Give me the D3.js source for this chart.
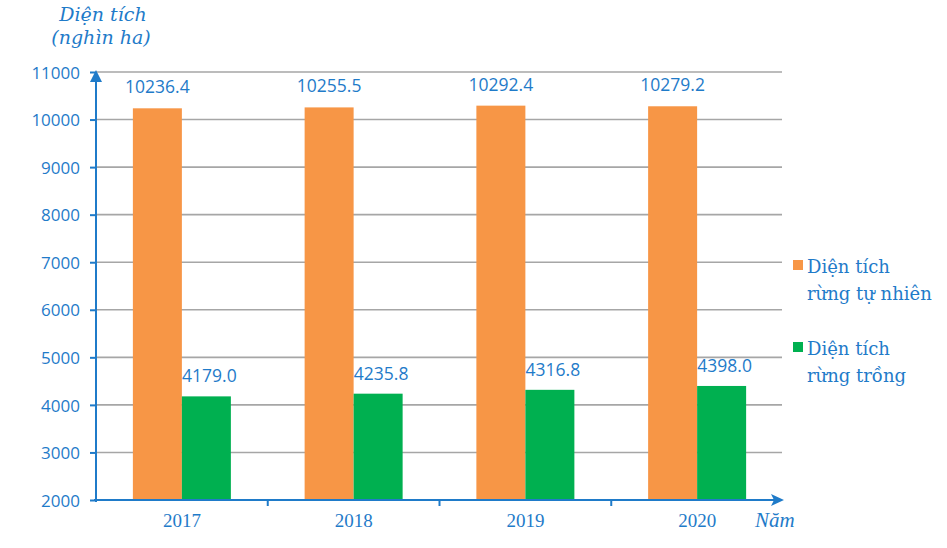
<!DOCTYPE html>
<html><head><meta charset="utf-8">
<script src="https://cdn.jsdelivr.net/npm/d3@7"></script>
<style>body{margin:0;background:#fff}</style>
</head><body>
<script>
const years = ["2017", "2018", "2019", "2020"];
const seriesNames = ["Diện tích rừng tự nhiên", "Diện tích rừng trồng"];
const natural = [10236.4, 10255.5, 10292.4, 10279.2];
const planted = [4179.0, 4235.8, 4316.8, 4398.0];
const yTicks = [2000, 3000, 4000, 5000, 6000, 7000, 8000, 9000, 10000, 11000];
const colors = ["#F79646", "#00B050"];
const blue = "#1F7BC9";
const serif = "'Liberation Serif', 'Times New Roman', serif";
const serifVN = "'DejaVu Serif', serif";

const W = 947, H = 548;
const svg = d3.select("body").append("svg").attr("width", W).attr("height", H);

const y = d3.scaleLinear().domain([2000, 11000]).range([500, 72]);
const x0 = d3.scaleBand().domain(years).range([96, 783]).padding(0);
const x1 = d3.scaleBand().domain([0, 1]).range([0, x0.bandwidth()]).paddingInner(0).paddingOuter(0.7526);

// gridlines
svg.append("g").selectAll("line").data(yTicks.filter(t => t > 2000)).join("line")
  .attr("x1", 96).attr("x2", 782).attr("y1", d => y(d)).attr("y2", d => y(d))
  .attr("stroke", "#A6A6A6").attr("stroke-width", 1.6);

// bars
const data = years.map((yr, i) => ({yr, vals: [natural[i], planted[i]]}));
const grp = svg.append("g").selectAll("g").data(data).join("g")
  .attr("transform", d => `translate(${x0(d.yr)},0)`);
grp.selectAll("rect").data(d => d.vals.map((v, k) => ({v, k}))).join("rect")
  .attr("x", d => x1(d.k)).attr("width", x1.bandwidth())
  .attr("y", d => y(d.v)).attr("height", d => y(2000) - y(d.v))
  .attr("fill", d => colors[d.k]);
grp.selectAll("text").data(d => d.vals.map((v, k) => ({v, k}))).join("text")
  .attr("x", d => x1(d.k) + x1.bandwidth() / 2 + (d.k === 1 ? 3 : 0))
  .attr("y", d => d.k === 0 ? y(d.v) - 15 : y(d.v) - 14)
  .attr("text-anchor", "middle")
  .attr("font-family", "'Open Sans', sans-serif").attr("font-size", 17.5)
  .attr("fill", blue)
  .text(d => d.v.toFixed(1));

// y axis
const yAxis = d3.axisLeft(y).tickValues(yTicks).tickSize(6).tickFormat(d3.format("d"));
const gy = svg.append("g").attr("transform", "translate(96,0)").call(yAxis);
gy.select(".domain").remove();
gy.selectAll(".tick line").attr("stroke", blue).attr("stroke-width", 2);
gy.selectAll(".tick text").attr("fill", blue).attr("font-family", "'Open Sans', sans-serif")
  .attr("font-size", 17).attr("x", -16).attr("dy", "0.36em");
svg.append("line").attr("x1", 96).attr("x2", 96).attr("y1", 502).attr("y2", 80)
  .attr("stroke", blue).attr("stroke-width", 2);
svg.append("path").attr("d", "M96,70 L90,82 L102,82 Z").attr("fill", blue);

// x axis
const xAxis = d3.axisBottom(x0).tickSize(0).tickFormat(d => d);
const gx = svg.append("g").attr("transform", "translate(0,500)").call(xAxis);
gx.select(".domain").remove();
gx.selectAll(".tick text").attr("fill", blue).attr("font-family", serif)
  .attr("font-size", 19).attr("y", 14).attr("dy", "0.71em");
svg.append("line").attr("x1", 94).attr("x2", 774).attr("y1", 500).attr("y2", 500)
  .attr("stroke", blue).attr("stroke-width", 2.2);
svg.append("path").attr("d", "M784,500 L771,494 L774,500 L771,506 Z").attr("fill", blue);
svg.append("g").selectAll("line").data(years.slice(1)).join("line")
  .attr("x1", d => x0(d)).attr("x2", d => x0(d)).attr("y1", 500).attr("y2", 506)
  .attr("stroke", blue).attr("stroke-width", 2);

// axis titles
const t = svg.append("g").attr("fill", blue).attr("font-family", serifVN)
  .attr("font-style", "italic").attr("font-size", 19);
t.append("text").attr("x", 103).attr("y", 21).attr("text-anchor", "middle").text("Diện tích");
t.append("text").attr("x", 101).attr("y", 44).attr("text-anchor", "middle").text("(nghìn ha)");
t.append("text").attr("x", 755).attr("y", 527).attr("font-family", serif).attr("font-size", 21).text("Năm");

// legend
const legendLines = [["Diện tích", "rừng tự nhiên"], ["Diện tích", "rừng trồng"]];
const lg = svg.append("g").selectAll("g").data(legendLines).join("g")
  .attr("transform", (d, i) => `translate(0,${i * 82})`);
lg.append("rect").attr("x", 793).attr("y", 260).attr("width", 10).attr("height", 10)
  .attr("fill", (d, i) => colors[i]);
lg.each(function(d) {
  const g = d3.select(this);
  d.forEach((line, j) => {
    g.append("text").attr("x", 807).attr("y", 273 + j * 27)
      .attr("font-family", serifVN).attr("font-size", 18)
      .attr("fill", blue).text(line);
  });
});
</script>
</body></html>
